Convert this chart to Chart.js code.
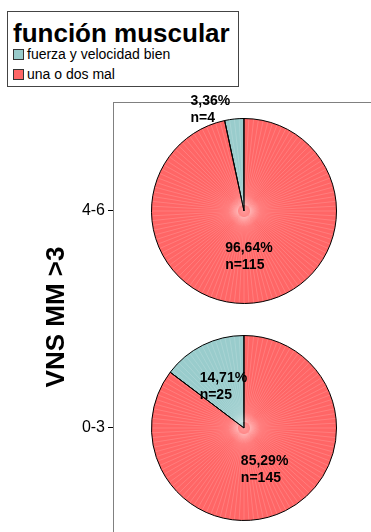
<!DOCTYPE html>
<html>
<head>
<meta charset="utf-8">
<script src="https://cdn.jsdelivr.net/npm/chart.js@4.4.1/dist/chart.umd.min.js"></script>
<style>
  html, body { margin: 0; padding: 0; background: #fff; overflow: hidden; width: 371px; height: 532px; }
  #stage { position: relative; width: 371px; height: 532px; overflow: hidden; }
  #axes { position: absolute; left: 0; top: 0; }
  .pie { position: absolute; }
  #legend {
    position: absolute; left: 7px; top: 11px; width: 230px; height: 74px;
    border: 1px solid #444; background: #fff; color: #000;
    font-family: "Liberation Sans", Arial, sans-serif;
  }
  #legend .title { position: absolute; left: 5px; top: 8px; font-size: 26px; font-weight: bold; line-height: 26px; white-space: nowrap; }
  #legend .sw { position: absolute; left: 5px; width: 9px; height: 9px; border: 1px solid #333; }
  #legend .item { position: absolute; left: 19px; font-size: 14px; line-height: 14px; white-space: nowrap; }
</style>
</head>
<body>
<div id="stage">
  <canvas id="axes" width="375" height="532"></canvas>
  <div id="legend"></div>
</div>
<script>
// ---- data ----
const groupLabels = ['4-6', '0-3'];                       // VNS MM >3 groups, top to bottom
const seriesNames = ['fuerza y velocidad bien', 'una o dos mal'];
const bienCounts = [4, 25];                               // fuerza y velocidad bien
const malCounts = [115, 145];                             // una o dos mal
const axisTitle = 'VNS MM >3';
const legendTitle = 'función muscular';

// ---- styling ----
const seriesColors = ['#99CCCC', '#FF6666'];
const FONT = '"Liberation Sans", Arial, sans-serif';
Chart.defaults.font.family = FONT;
Chart.defaults.color = '#000';

const labelPlacement = { insideRadius: 0.5, outsideRadius: 1.15, outsideShiftDeg: -12.4, minInsideShare: 0.05, lineGap: 17 };

// legend box
const legend = document.getElementById('legend');
legend.innerHTML = '<div class="title"></div>';
legend.querySelector('.title').textContent = legendTitle;
seriesNames.forEach((name, i) => {
  const sw = document.createElement('div');
  sw.className = 'sw';
  sw.style.top = (37 + i * 20) + 'px';
  sw.style.background = seriesColors[i];
  legend.appendChild(sw);
  const it = document.createElement('div');
  it.className = 'item';
  it.style.top = (35 + i * 20) + 'px';
  it.textContent = name;
  legend.appendChild(it);
});

// first group sits at the top of the value axis
const groupValue = i => groupLabels.length - 1 - i;

const axesChart = new Chart(document.getElementById('axes'), {
  type: 'scatter',
  data: { datasets: [] },
  options: {
    responsive: false,
    animation: false,
    layout: { autoPadding: false, padding: { left: 37, top: 102, right: 0, bottom: 0 } },
    plugins: { legend: { display: false }, tooltip: { enabled: false } },
    scales: {
      x: {
        type: 'linear', position: 'top', min: 0, max: 1,
        ticks: { display: false },
        grid: { display: true, drawOnChartArea: false, drawTicks: false },
        border: { display: true, color: '#808080', width: 1 },
        afterFit(s) { s.height = 0; }
      },
      y: {
        type: 'linear', min: -0.48, max: 1.5,
        afterBuildTicks(s) { s.ticks = groupLabels.map((_, i) => ({ value: groupValue(i) })); },
        ticks: {
          font: { size: 16 }, color: '#000', padding: 3,
          callback: v => groupLabels[groupLabels.length - 1 - v]
        },
        grid: { drawOnChartArea: false, drawTicks: true, tickLength: 5, color: '#000' },
        border: { display: true, color: '#808080', width: 1 },
        title: { display: true, text: axisTitle, font: { size: 26, weight: 'bold' }, color: '#000' },
        // axis runs the full height of the plot frame
        afterFit(s) { s.width = 76; s.paddingTop = 0; s.paddingBottom = 0; }
      }
    }
  }
});

function fmtPct(v, total) {
  return (v / total * 100).toFixed(2).replace('.', ',') + '%';
}

// fine radial strokes over the slice fills, with a soft glow at the hub
const radialTexture = {
  id: 'radialTexture',
  afterDatasetsDraw(chart) {
    const ctx = chart.ctx;
    const arcs = chart.getDatasetMeta(0).data;
    if (!arcs.length) return;
    const { x, y, outerRadius } = arcs[0];
    ctx.save();
    ctx.beginPath();
    ctx.arc(x, y, outerRadius - 0.8, 0, Math.PI * 2);
    ctx.clip();
    ctx.strokeStyle = 'rgba(255,255,255,0.26)';
    ctx.lineWidth = 0.6;
    const n = 120;
    for (let k = 0; k < n; k++) {
      const a = k / n * Math.PI * 2;
      ctx.beginPath();
      ctx.moveTo(x + Math.cos(a) * 6, y + Math.sin(a) * 6);
      ctx.lineTo(x + Math.cos(a) * outerRadius, y + Math.sin(a) * outerRadius);
      ctx.stroke();
    }
    const g = ctx.createRadialGradient(x, y, 0, x, y, 16);
    g.addColorStop(0, 'rgba(255,255,255,0.35)');
    g.addColorStop(1, 'rgba(255,255,255,0)');
    ctx.fillStyle = g;
    ctx.fillRect(x - 16, y - 16, 32, 32);
    ctx.restore();
    // slice edges back on top
    ctx.save();
    ctx.strokeStyle = '#000';
    ctx.lineWidth = 1;
    arcs.forEach(a => {
      ctx.beginPath();
      ctx.moveTo(x, y);
      ctx.lineTo(x + Math.cos(a.startAngle) * outerRadius, y + Math.sin(a.startAngle) * outerRadius);
      ctx.stroke();
    });
    ctx.restore();
  }
};

// percentage and count for each slice
const sliceLabels = {
  id: 'sliceLabels',
  afterDatasetsDraw(chart) {
    const ctx = chart.ctx;
    const ds = chart.data.datasets[0];
    const total = ds.data.reduce((s, v) => s + v, 0);
    chart.getDatasetMeta(0).data.forEach((arc, i) => {
      const v = ds.data[i];
      const share = v / total;
      const mid = (arc.startAngle + arc.endAngle) / 2;
      let ang = mid, r = arc.outerRadius * labelPlacement.insideRadius;
      if (share < labelPlacement.minInsideShare) {
        ang = mid + labelPlacement.outsideShiftDeg * Math.PI / 180;
        r = arc.outerRadius * labelPlacement.outsideRadius;
      }
      const ax = arc.x + Math.cos(ang) * r;
      const ay = arc.y + Math.sin(ang) * r;
      const lines = [fmtPct(v, total), 'n=' + v];
      ctx.save();
      ctx.font = 'bold 14px ' + FONT;
      ctx.fillStyle = '#000';
      ctx.textAlign = 'left';
      ctx.textBaseline = 'middle';
      const w = Math.max(...lines.map(t => ctx.measureText(t).width));
      lines.forEach((t, k) => ctx.fillText(t, ax - w / 2, ay + (k - (lines.length - 1) / 2) * labelPlacement.lineGap));
      ctx.restore();
    });
  }
};

const stage = document.getElementById('stage');
const PIE_SIZE = 240;
groupLabels.forEach((g, i) => {
  const canvas = document.createElement('canvas');
  canvas.width = PIE_SIZE;
  canvas.height = PIE_SIZE;
  canvas.className = 'pie';
  stage.insertBefore(canvas, document.getElementById('legend'));
  const cx = axesChart.scales.x.getPixelForValue(0.5);
  const cy = axesChart.scales.y.getPixelForValue(groupValue(i));
  canvas.style.left = (cx - PIE_SIZE / 2) + 'px';
  canvas.style.top = (cy - PIE_SIZE / 2) + 'px';
  const values = [bienCounts[i], malCounts[i]];
  const total = values.reduce((s, v) => s + v, 0);
  new Chart(canvas, {
    type: 'pie',
    data: {
      labels: seriesNames,
      datasets: [{ data: values, backgroundColor: seriesColors, borderColor: '#000', borderWidth: 1 }]
    },
    options: {
      responsive: false,
      animation: false,
      rotation: -values[0] / total * 360,
      layout: { padding: 27 },
      plugins: { legend: { display: false }, tooltip: { enabled: false } }
    },
    plugins: [radialTexture, sliceLabels]
  });
});
</script>
</body>
</html>
